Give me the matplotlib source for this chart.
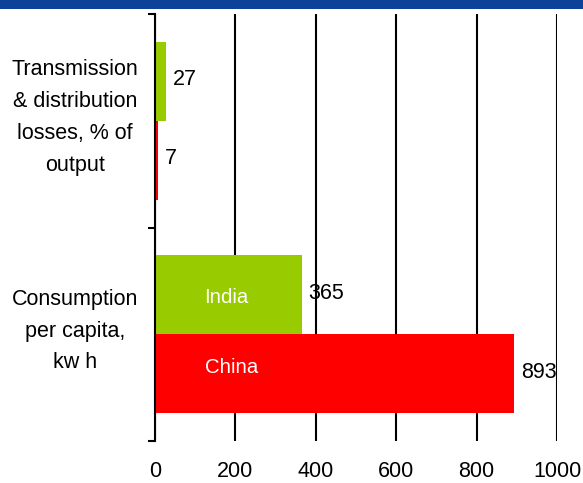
import matplotlib.pyplot as plt
import numpy as np

# data
categories = ["Consumption\nper capita,\nkw h", "Transmission\n& distribution\nlosses, % of\noutput"]
india = [365, 27]
china = [893, 7]
x_ticks = [0, 200, 400, 600, 800, 1000]

GREEN = "#99CC00"
RED = "#FF0000"
FS = 15.5

plt.rcParams["font.family"] = ["Liberation Sans", "DejaVu Sans"]

fig = plt.figure(figsize=(5.83, 4.83), dpi=100)

# blue banner at top
fig.patches.append(plt.Rectangle((0, 1 - 9 / 483), 1, 9 / 483, transform=fig.transFigure,
                                 facecolor="#0D419A", edgecolor="none"))

ax = fig.add_axes([155 / 583, 42 / 483, 402 / 583, 427 / 483])

y = np.arange(len(categories))
h = 0.37
ax.barh(y + h / 2, india, height=h, color=GREEN, zorder=3)
ax.barh(y - h / 2, china, height=h, color=RED, zorder=3)

for yi, v in zip(y + h / 2, india):
    ax.annotate(str(v), (v, yi), xytext=(5, 1), textcoords="offset points",
                va="center", ha="left", fontsize=FS, zorder=4)
for yi, v in zip(y - h / 2, china):
    ax.annotate(str(v), (v, yi), xytext=(5, 1), textcoords="offset points",
                va="center", ha="left", fontsize=FS, zorder=4)

# series names written inside the bars
ax.text(178, y[0] + h / 2 - 0.015, "India", color="white", ha="center", va="center",
        fontsize=14.7, zorder=4)
ax.text(191, y[0] - h / 2 + 0.027, "China", color="white", ha="center", va="center",
        fontsize=14.7, zorder=4)

ax.set_xlim(0, 1000)
ax.set_ylim(-0.5, 1.5)
ax.set_xticks(x_ticks)
ax.tick_params(axis="x", length=0, pad=14.5, labelsize=FS)

ax.set_yticks([-0.5, 0.5, 1.5])
ax.set_yticklabels([])
ax.tick_params(axis="y", direction="out", length=5, width=1.5)
for yi, name in zip(y, categories):
    ax.text(-0.199, yi + 0.015, name, transform=ax.get_yaxis_transform(),
            ha="center", va="center", fontsize=FS, linespacing=1.68)

ax.xaxis.grid(True, color="black", linewidth=1.5)
ax.set_axisbelow(True)
for s in ["top", "right", "bottom"]:
    ax.spines[s].set_visible(False)
ax.spines["left"].set_linewidth(1.5)
ax.spines["left"].set_zorder(5)

fig.savefig("out.png", dpi=100)
